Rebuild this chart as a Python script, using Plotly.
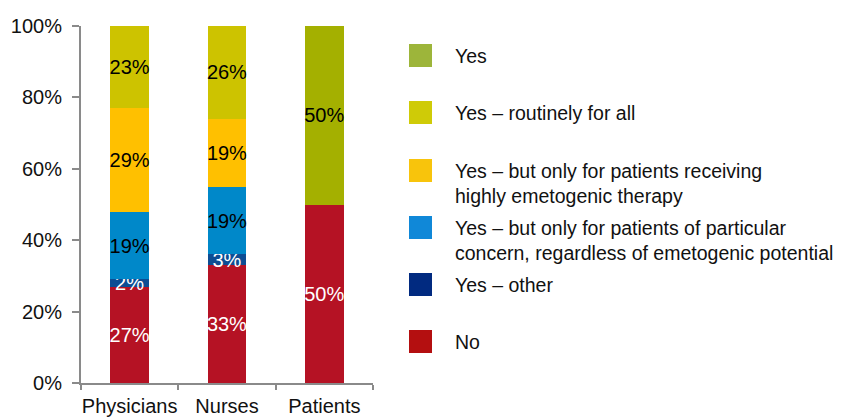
import plotly.graph_objects as go

categories = ["Physicians", "Nurses", "Patients"]
series_names = [
    "No",
    "Yes – other",
    "Yes – but only for patients of particular<br>concern, regardless of emetogenic potential",
    "Yes – but only for patients receiving<br>highly emetogenic therapy",
    "Yes – routinely for all",
    "Yes",
]
values = [
    [27, 33, 50],   # No
    [2, 3, 0],      # Yes – other
    [19, 19, 0],    # particular concern
    [29, 19, 0],    # highly emetogenic
    [23, 26, 0],    # routinely for all
    [0, 0, 50],     # Yes
]
y_tick_values = [0, 20, 40, 60, 80, 100]
y_tick_labels = ["0%", "20%", "40%", "60%", "80%", "100%"]

bar_colors = ["#b51224", "#0d4d93", "#0088c9", "#ffc000", "#cdc300", "#a4b000"]
legend_colors = ["#b40f10", "#012a80", "#1088d8", "#f8c40c", "#cfcb07", "#9db53a"]
text_colors = ["white", "white", "black", "black", "black", "black"]

FONT = "Liberation Sans, Arial, Helvetica, sans-serif"
FS = 20
LFS = 19.5
OFF = 8  # page body margin
W, H = 845 - OFF, 417 - OFF
# target page pixel positions of the plot area: x 81..373, y 26..383
ML, MT = 81 - OFF, 26 - OFF
MR = W - (373 - OFF)
MB = H - (383 - OFF)
PW = W - ML - MR
PH = H - MT - MB

def px_x(x):  # page pixel -> paper
    return (x - OFF - ML) / PW

def px_y(y):
    return (H - MB - (y - OFF)) / PH

fig = go.Figure()
for name, vals, col, tcol in zip(series_names, values, bar_colors, text_colors):
    fig.add_trace(go.Bar(
        x=categories, y=vals, name=name,
        marker=dict(color=col, line=dict(width=0)),
        text=[f"{v}%" if v else "" for v in vals],
        textposition="inside", insidetextanchor="middle",
        textangle=0, constraintext="none",
        textfont=dict(family=FONT, size=FS, color=tcol),
        width=0.4, hoverinfo="skip", showlegend=False,
    ))

# Manual legend (top to bottom: reverse stacking order)
sq_centers = [55.5, 112.5, 170.5, 227.5, 284.5, 341.5]
shapes, annots = [], []
for i, idx in enumerate(reversed(range(len(series_names)))):
    cy = sq_centers[i]
    shapes.append(dict(type="rect", xref="paper", yref="paper",
                       x0=px_x(409), x1=px_x(432), y0=px_y(cy + 11.5), y1=px_y(cy - 11.5),
                       fillcolor=legend_colors[idx], line=dict(width=0)))
    name = series_names[idx]
    lines = name.count("<br>") + 1
    ty = cy + 0.5 + (lines - 1) * 12.5
    annots.append(dict(xref="paper", yref="paper", x=px_x(453), y=px_y(ty),
                       xanchor="left", yanchor="middle", text=name, showarrow=False,
                       align="left", font=dict(family=FONT, size=LFS, color="#111111")))

fig.update_layout(
    barmode="stack", width=W, height=H,
    margin=dict(l=ML, r=MR, t=MT, b=MB, autoexpand=False),
    paper_bgcolor="white", plot_bgcolor="white",
    shapes=shapes, annotations=annots,
    font=dict(family=FONT, size=FS, color="#111111"),
    bargap=0.6,
)
fig.update_yaxes(range=[0, 100], tickmode="array", tickvals=y_tick_values, ticktext=y_tick_labels,
                 automargin=False, ticklabelstandoff=6,
                 showgrid=False, zeroline=False, showline=True, linecolor="#8a8a8a",
                 linewidth=2, ticks="outside", ticklen=7, tickwidth=2, tickcolor="#8a8a8a",
                 tickfont=dict(family=FONT, size=FS, color="#111111"))
fig.update_xaxes(showgrid=False, showline=True, linecolor="#8a8a8a", linewidth=2,
                 automargin=False, tickangle=0, ticklabelstandoff=4,
                 ticks="outside", ticklen=5, tickwidth=2, tickcolor="#8a8a8a",
                 tickson="boundaries",
                 tickfont=dict(family=FONT, size=FS, color="#111111"))

fig.write_html("out.html")
